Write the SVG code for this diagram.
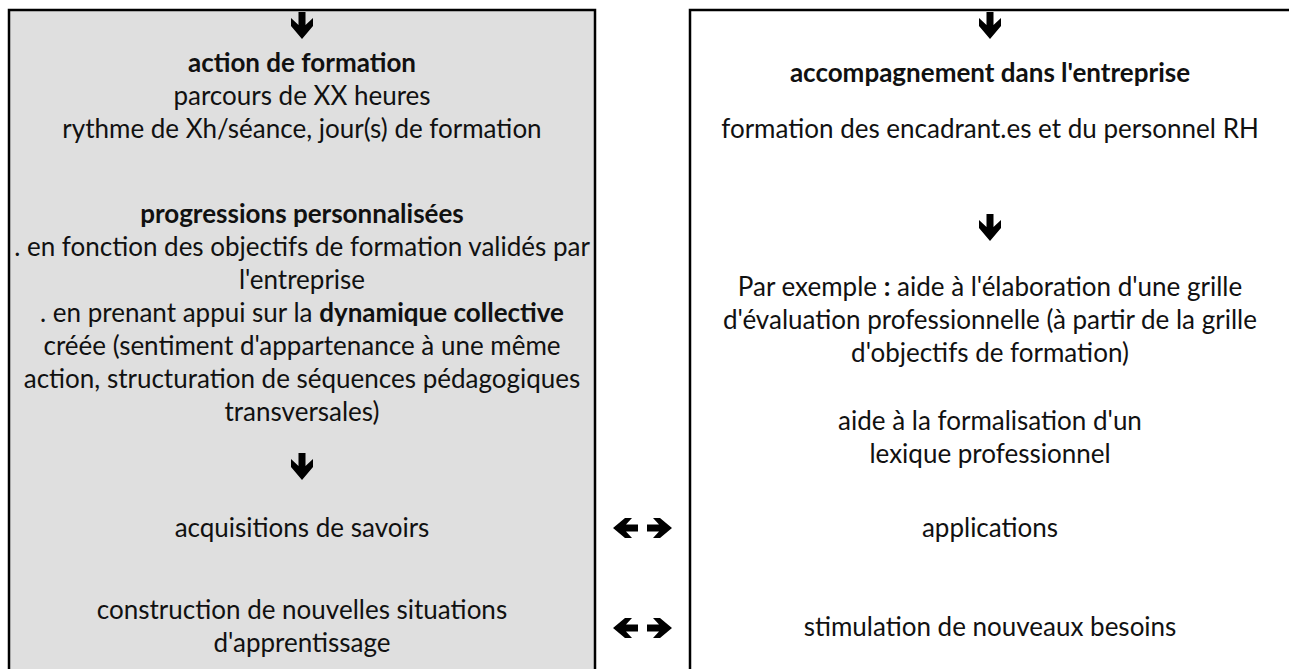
<svg xmlns="http://www.w3.org/2000/svg" width="1289" height="669" viewBox="0 0 1289 669">
<style>
.box{stroke:#000;stroke-width:2.5}
.t{font-family:Lato,"Liberation Sans",sans-serif;font-size:26px;fill:#111;text-anchor:middle}
.b{font-weight:bold}
.arr{fill:#000}
</style>
<defs>
<path id="down" d="M-3.5,0 H3.5 V13 L11,6 V14 L0,27 L-11,14 V6 L-3.5,13 Z"/>
<path id="lr" d="M25,-3.5 H13 L19,-10 H12 L0,0 L12,10 H19 L13,3.5 H25 Z M34,-3.5 H46 L40,-10 H47 L59,0 L47,10 H40 L46,3.5 H34 Z"/>
</defs>
<rect width="1289" height="669" fill="#fff"/>
<g id="left-node">
<rect class="box" x="9" y="10" width="586" height="680" fill="#dfdfdf"/>
<text class="t b" x="302" y="72">action de formation</text>
<text class="t" x="302" y="105">parcours de XX heures</text>
<text class="t" x="302" y="138">rythme de Xh/séance, jour(s) de formation</text>
<text class="t b" x="302" y="223">progressions personnalisées</text>
<text class="t" x="302" y="256">. en fonction des objectifs de formation validés par</text>
<text class="t" x="302" y="289">l'entreprise</text>
<text class="t" x="302" y="322">. en prenant appui sur la <tspan class="b">dynamique collective</tspan></text>
<text class="t" x="302" y="355">créée (sentiment d'appartenance à une même</text>
<text class="t" x="302" y="388">action, structuration de séquences pédagogiques</text>
<text class="t" x="302" y="421">transversales)</text>
<text class="t" x="302" y="537">acquisitions de savoirs</text>
<text class="t" x="302" y="619">construction de nouvelles situations</text>
<text class="t" x="302" y="652">d'apprentissage</text>
</g>
<g id="right-node">
<rect class="box" x="690" y="10" width="610" height="680" fill="#fff"/>
<text class="t b" x="990" y="82">accompagnement dans l'entreprise</text>
<text class="t" x="990" y="138">formation des encadrant.es et du personnel RH</text>
<text class="t" x="990" y="296">Par exemple <tspan class="b">:</tspan> aide à l'élaboration d'une grille</text>
<text class="t" x="990" y="329">d'évaluation professionnelle (à partir de la grille</text>
<text class="t" x="990" y="362">d'objectifs de formation)</text>
<text class="t" x="990" y="430">aide à la formalisation d'un</text>
<text class="t" x="990" y="463">lexique professionnel</text>
<text class="t" x="990" y="537">applications</text>
<text class="t" x="990" y="636">stimulation de nouveaux besoins</text>
</g>
<g id="connectors" class="arr">
<use href="#down" x="302" y="12"/>
<use href="#down" x="302" y="453"/>
<use href="#down" x="990" y="12"/>
<use href="#down" x="990" y="214"/>
<use href="#lr" x="613" y="528"/>
<use href="#lr" x="613" y="628"/>
</g>
</svg>
